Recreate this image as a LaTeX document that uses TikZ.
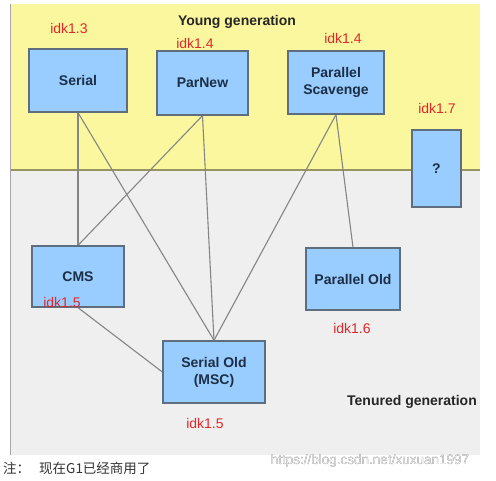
\documentclass[tikz,border=0pt]{standalone}
\usepackage{fontspec}
\setmainfont{Liberation Sans}
\newfontfamily\cjk{Noto Sans CJK SC}
\definecolor{ylw}{HTML}{FBF79E}
\definecolor{gry}{HTML}{EFEFEF}
\definecolor{boxfill}{HTML}{99CCFF}
\definecolor{boxline}{HTML}{5F6E7E}
\definecolor{boxtext}{HTML}{1C2F45}
\definecolor{redlab}{HTML}{E02828}
\definecolor{wire}{HTML}{858585}
\pgfdeclarelayer{back}
\pgfdeclarelayer{wires}
\pgfsetlayers{back,wires,main}
\tikzset{
  gcbox/.style={draw=boxline, line width=1.3pt, fill=boxfill, rectangle, inner sep=0pt,
    text=boxtext, font=\fontsize{14}{17}\selectfont\bfseries, align=center},
  ver/.style={text=redlab, font=\fontsize{14}{16}\selectfont, inner sep=0pt},
  genlab/.style={text=black!85, font=\fontsize{14}{16}\selectfont\bfseries, inner sep=0pt},
  conn/.style={draw=wire, line width=1.1pt},
}
\begin{document}
\begin{tikzpicture}[x=1pt,y=-1pt]
\useasboundingbox (0,0) rectangle (496,480);
\begin{pgfonlayer}{back}
  \fill[ylw] (10,4) rectangle (480,170);
  \fill[gry] (10,170) rectangle (480,455);
  \draw[color=black!40!ylw, line width=1.2pt] (10,170) -- (480,170);
  \draw[color=black!35, line width=1.2pt] (10.5,4) -- (10.5,455);
\end{pgfonlayer}

\node[gcbox, minimum width=98pt, minimum height=63pt] (serial) at (78,80.5) {Serial};
\node[gcbox, minimum width=91pt, minimum height=64pt] (parnew) at (202.5,83) {ParNew};
\node[gcbox, minimum width=96pt, minimum height=63pt] (ps) at (336,82.5) {Parallel\\Scavenge};
\node[gcbox, minimum width=49pt, minimum height=77pt] (q) at (436.5,168.5) {?};
\node[gcbox, minimum width=92pt, minimum height=61pt] (cms) at (78,276.5) {CMS};
\node[gcbox, minimum width=102pt, minimum height=62pt] (sold) at (214,372) {Serial Old\\(MSC)};
\node[gcbox, minimum width=94pt, minimum height=62pt] (pold) at (353,279) {Parallel Old};

\begin{pgfonlayer}{wires}
  \draw[conn] (serial.south) -- (cms.north);
  \draw[conn] (serial.south) -- (sold.north);
  \draw[conn] (parnew.south) -- (cms.north);
  \draw[conn] (parnew.south) -- (sold.north);
  \draw[conn] (ps.south) -- (sold.north);
  \draw[conn] (ps.south) -- (pold.north);
  \draw[conn] (cms.south) -- (sold.west);
\end{pgfonlayer}

\node[genlab] (young) at (237,22) {Young generation};
\node[genlab] (tenured) at (412,402) {Tenured generation};

\node[ver] (v13) at (69,28) {idk1.3};
\node[ver] (v14a) at (195,43) {idk1.4};
\node[ver] (v14b) at (343,38) {idk1.4};
\node[ver] (v17) at (437,108) {idk1.7};
\node[ver] (v15a) at (62,302) {idk1.5};
\node[ver] (v15b) at (205,423) {idk1.5};
\node[ver] (v16) at (352,328) {idk1.6};

\node[text=black!75, font=\fontsize{13.5}{15}\selectfont, inner sep=0pt, anchor=center] (wm) at (370,461) {https://blog.csdn.net/xuxuan1997};
\node[text=white!92!black, font=\fontsize{13.5}{15}\selectfont, inner sep=0pt, anchor=center] (wm2) at (370,461) {https://blog.csdn.net/xuxuan1997};

\node[anchor=west, inner sep=0pt, text=black!80, font=\cjk\fontsize{13.5}{15}\selectfont] (note) at (3,468) {注：};
\node[anchor=west, inner sep=0pt, text=black!80, font=\cjk\fontsize{13.5}{15}\selectfont] (notetext) at (39,468) {现在G1已经商用了};
\end{tikzpicture}
\end{document}
